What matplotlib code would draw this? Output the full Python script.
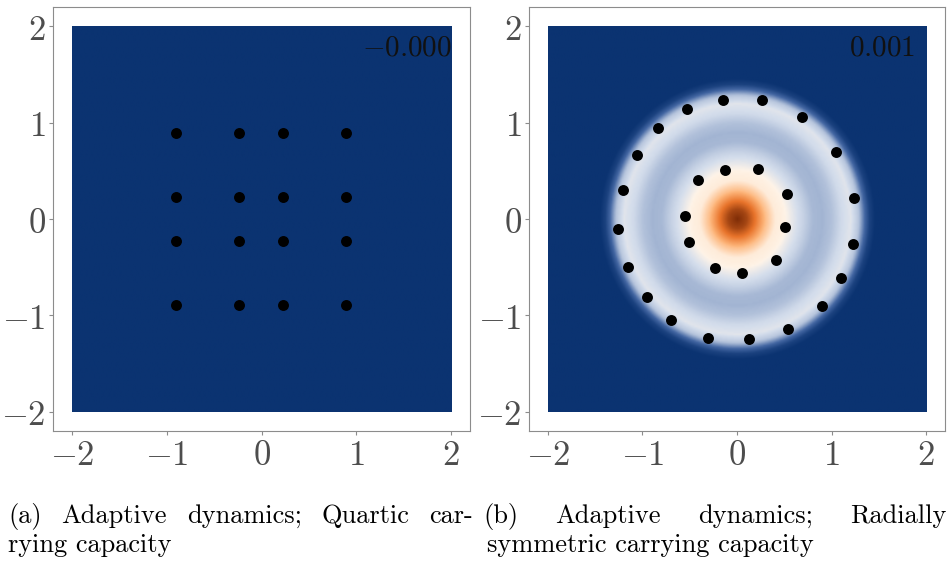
import numpy as np
import matplotlib.pyplot as plt
from matplotlib.colors import LinearSegmentedColormap

plt.rcParams['mathtext.fontset'] = 'cm'

# panel (a): adaptive dynamics, quartic carrying capacity (4x4 lattice of traits)
a_x = [-0.90, -0.24, 0.23, 0.89]
a_y = [0.89, 0.23, -0.23, -0.89]
a_label = r'$-0.000$'

# panel (b): radially symmetric carrying capacity
b_x = [-0.15, 0.26, -0.53, 0.69, -0.84, 1.05, -1.06, -1.21, 1.24, -1.26,
       1.23, -1.15, 1.10, -0.95, 0.90, -0.70, 0.54, -0.31, 0.13,
       -0.13, 0.22, -0.41, 0.53, -0.55, 0.51, -0.51, 0.41, -0.23, 0.05]
b_y = [1.24, 1.23, 1.14, 1.06, 0.94, 0.70, 0.66, 0.30, 0.22, -0.10,
       -0.26, -0.50, -0.61, -0.81, -0.90, -1.05, -1.14, -1.23, -1.25,
       0.51, 0.52, 0.41, 0.26, 0.03, -0.08, -0.24, -0.43, -0.51, -0.56]
b_label = r'$0.001$'

# radial profile of the surface in (b), on a -1 (blue) .. 1 (brown) scale
prof_r = [0.0, 0.1, 0.2, 0.3, 0.4, 0.5, 0.6, 0.7, 0.8, 0.9, 1.0, 1.1, 1.2, 1.28, 1.34, 1.40, 1.46]
prof_v = [1.0, 0.85, 0.55, 0.25, 0.04, 0.01, -0.10, -0.20, -0.32, -0.34, -0.28, -0.16, -0.10, -0.25, -0.55, -0.88, -1.0]

ticks = [-2, -1, 0, 1, 2]
tick_labels = [r'$-2$', r'$-1$', r'$0$', r'$1$', r'$2$']

cap_a1 = ['(a)', 'Adaptive', 'dynamics;', 'Quartic', 'car-']
cap_a2 = 'rying capacity'
cap_b1 = ['(b)', 'Adaptive', 'dynamics;', 'Radially']
cap_b2 = 'symmetric carrying capacity'

cmap = LinearSegmentedColormap.from_list('bo', [
    (0.0, '#0b3371'), (0.2, '#4467a3'), (0.33, '#a3b5d3'), (0.43, '#d5deec'),
    (0.5, '#fff4e8'), (0.65, '#fdb57a'), (0.8, '#e8732a'), (1.0, '#7f2d07')])

grid = np.linspace(-2, 2, 241)
X, Y = np.meshgrid(grid, grid)
surf_a = np.full_like(X, -1.0)
surf_b = np.interp(np.hypot(X, Y), prof_r, prof_v)

fig = plt.figure(figsize=(9.48, 5.61), dpi=100)
ax_a = fig.add_axes([0.0559, 0.2317, 0.4399, 0.7558])
ax_b = fig.add_axes([0.558, 0.2317, 0.4388, 0.7558])


def panel(ax, surf, xs, ys, label):
    ax.imshow(surf, extent=[-2, 2, -2, 2], origin='lower', cmap=cmap,
              vmin=-1, vmax=1, interpolation='bilinear')
    ax.scatter(xs, ys, s=62, c='black', linewidths=0, zorder=3)
    ax.text(1.53, 1.78, label, ha='center', va='center', fontsize=21, color='#111111')
    ax.set_xlim(-2.2, 2.2)
    ax.set_ylim(-2.2, 2.2)
    ax.set_aspect('auto')
    ax.set_xticks(ticks)
    ax.set_yticks(ticks)
    ax.set_xticklabels(tick_labels)
    ax.set_yticklabels(tick_labels)
    for sp in ax.spines.values():
        sp.set_color('#8c8c8c')
        sp.set_linewidth(0.8)
    ax.tick_params(color='#8c8c8c', length=3, width=0.8, labelsize=25,
                   labelcolor='#4d4d4d', pad=2)


ax_x, ax_y = np.meshgrid(a_x, a_y)
panel(ax_a, surf_a, ax_x.ravel(), ax_y.ravel(), a_label)
panel(ax_b, surf_b, b_x, b_y, b_label)

CAP_SIZE = 19


def justify(words, x0, x1, y, size=CAP_SIZE):
    r = fig.canvas.get_renderer()
    arts = [fig.text(0, y, w, fontsize=size, family='cmr10', va='baseline') for w in words]
    widths = [a.get_window_extent(r).width / fig.bbox.width for a in arts]
    gap = (x1 - x0 - sum(widths)) / (len(words) - 1)
    x = x0
    for a, w in zip(arts, widths):
        a.set_x(x)
        x += w + gap


justify(cap_a1, 0.0084, 0.499, 0.068)
fig.text(0.0084, 0.0166, cap_a2, fontsize=CAP_SIZE, family='cmr10', va='baseline')
justify(cap_b1, 0.5100, 0.998, 0.068)
fig.text(0.5140, 0.0166, cap_b2, fontsize=CAP_SIZE, family='cmr10', va='baseline')

fig.savefig('out.png', dpi=100)
